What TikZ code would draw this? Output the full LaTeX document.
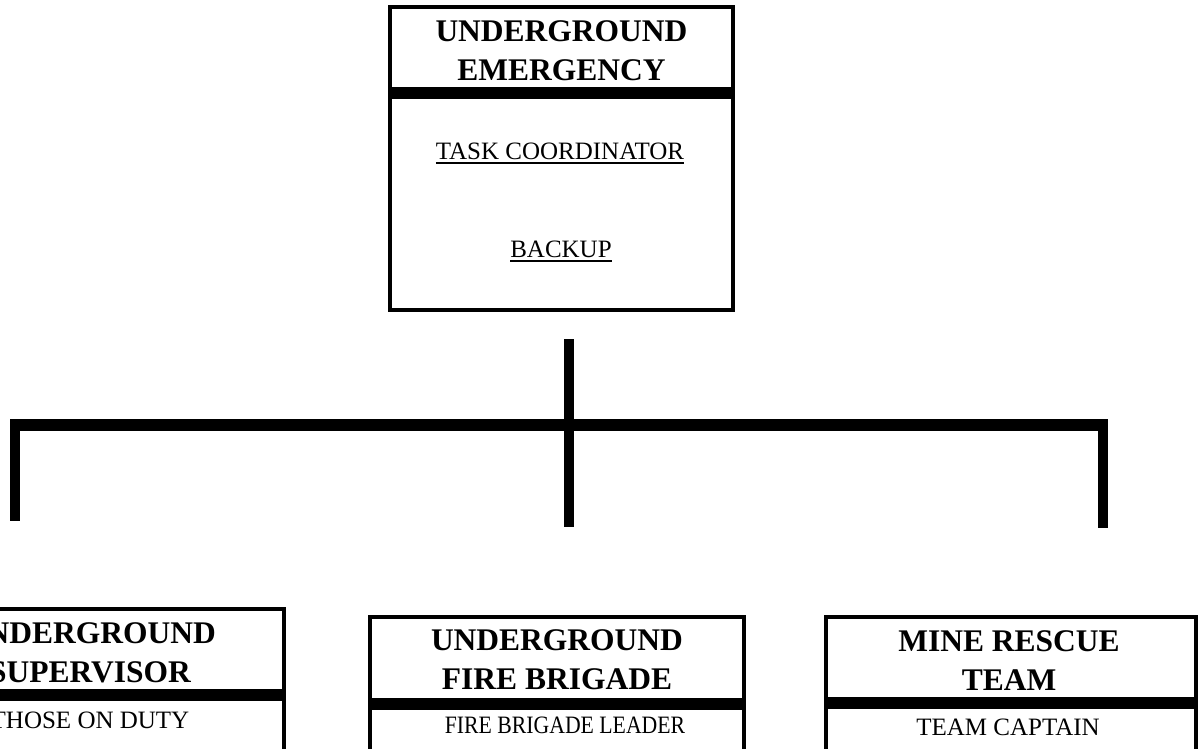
\documentclass[tikz,border=0pt]{standalone}
\usepackage{fontspec}
\setmainfont{Liberation Serif}
\usetikzlibrary{positioning}
\newcommand{\undl}[1]{\setbox0\hbox{#1}\rlap{\raisebox{-5pt}{\rule{\wd0}{2pt}}}\box0}

\begin{document}
\begin{tikzpicture}[x=1pt,y=-1pt,
        unitbox/.style={draw,line width=4pt,inner sep=0pt},
        divider/.style={line width=12pt},
        title/.style={font=\fontsize{31.5}{39}\selectfont\bfseries,align=center,inner sep=0pt},
        role/.style={font=\fontsize{25}{30}\selectfont,inner sep=0pt,anchor=base},
        leg/.style={line width=10pt},
        busbar/.style={line width=12pt}]
        \useasboundingbox (0,0) rectangle (1200,748);
        \clip (0,0) rectangle (1200,748);
        %顶部方框
        \node [unitbox,minimum width=343pt,minimum height=303pt] (emerg) at (561.5,158.5) {};
        \draw [divider] (emerg.west |- 0,93) -- (emerg.east |- 0,93);
        \node [title] (emerg title) at (561.5,50.5) {UNDERGROUND\\EMERGENCY};
        \node [role] (emerg task) at (560,159) {\undl{TASK COORDINATOR}};
        \node [role] (emerg backup) at (561,257) {\undl{BACKUP}};
        %连线
        \coordinate (hubtop) at (569,339);
        \coordinate (hubend) at (569,527);
        \coordinate (busL) at (10,425);
        \coordinate (busR) at (1108,425);
        \coordinate (legL) at (15,419);
        \coordinate (legLend) at (15,521);
        \coordinate (legR) at (1103,419);
        \coordinate (legRend) at (1103,528);
        \draw [leg] (hubtop) -- (hubend);
        \draw [busbar] (busL) -- (busR);
        \draw [leg] (legL) -- (legLend);
        \draw [leg] (legR) -- (legRend);
        %底部方框
        \node [unitbox,minimum width=384pt,minimum height=191pt] (super) at (92,704.5) {};
        \draw [divider] (super.west |- 0,695) -- (super.east |- 0,695);
        \node [title] (super title) at (90,652.5) {UNDERGROUND\\SUPERVISOR};
        \node [role] (super duty) at (90,728) {THOSE ON DUTY};
        \node [unitbox,minimum width=374pt,minimum height=183pt] (brigade) at (557,708.5) {};
        \draw [divider] (brigade.west |- 0,703.5) -- (brigade.east |- 0,703.5);
        \node [title] (brigade title) at (557,660) {UNDERGROUND\\FIRE BRIGADE};
        \node [role] (brigade leader) at (565,733) {\scalebox{0.87}[1]{FIRE BRIGADE LEADER}};
        \node [unitbox,minimum width=370pt,minimum height=183pt] (rescue) at (1011,708.5) {};
        \draw [divider] (rescue.west |- 0,702.5) -- (rescue.east |- 0,702.5);
        \node [title] (rescue title) at (1009,661) {MINE RESCUE\\TEAM};
        \node [role] (rescue captain) at (1008,735) {TEAM CAPTAIN};
\end{tikzpicture}
\end{document}
